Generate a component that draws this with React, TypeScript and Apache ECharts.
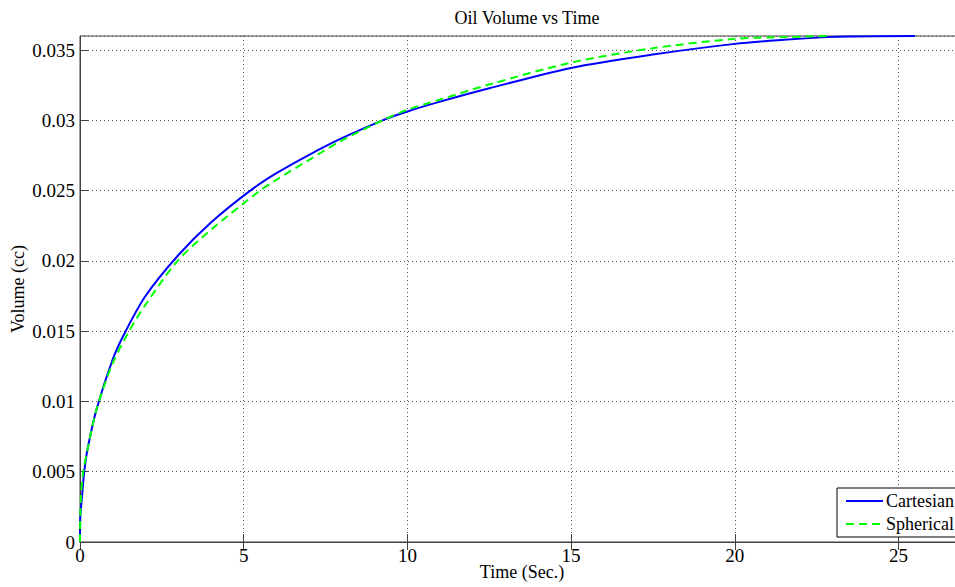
import React, { useEffect, useRef } from "react";
import * as echarts from "echarts";

const cartesianT = [0, 0.01, 0.06, 0.13, 0.23, 0.5, 1, 1.35, 2, 3, 4, 5.2, 6, 7, 8, 9.24, 10, 11, 12.5, 15, 17.5, 20, 21.5, 22.8, 23.5, 25.5];
const cartesianV = [0, 0.0018, 0.0032, 0.005, 0.0066, 0.0094, 0.0130, 0.0148, 0.0175, 0.0204, 0.02273, 0.025, 0.02624, 0.02755, 0.02873, 0.0300, 0.03063, 0.03133, 0.03228, 0.03373, 0.03468, 0.03544, 0.03573, 0.03592, 0.03597, 0.036];

const sphericalT = [0, 0.02, 0.1, 0.25, 0.5, 1, 1.5, 2, 2.98, 4, 5.5, 6, 7, 8, 9.24, 10, 11, 12.5, 15, 17.5, 20, 21.5, 22.8];
const sphericalV = [0, 0.0028, 0.005, 0.0068, 0.0094, 0.01273, 0.015, 0.01688, 0.02, 0.02221, 0.025, 0.02577, 0.02719, 0.02857, 0.0300, 0.03075, 0.03148, 0.03255, 0.03411, 0.03513, 0.0358, 0.03592, 0.036];

const xTicks = { min: 0, max: 27, interval: 5 };
const yTicks = { min: 0, max: 0.036, interval: 0.005 };

const FONT = "'Liberation Serif', 'Times New Roman', serif";

export default function App() {
  const ref = useRef<HTMLDivElement>(null);
  useEffect(() => {
    if (!ref.current) return;
    const chart = echarts.init(ref.current, undefined, { renderer: "svg" });
    const cart = cartesianT.map((t, i) => [t, cartesianV[i]]);
    const sph = sphericalT.map((t, i) => [t, sphericalV[i]]);
    const axisColor = "#404040";
    chart.setOption({
      animation: false,
      backgroundColor: "#fff",
      title: {
        text: "Oil Volume vs Time",
        left: 522,
        textAlign: "center",
        top: 4,
        textStyle: { fontFamily: FONT, fontSize: 18, fontWeight: "normal", color: "#000" },
      },
      grid: {
        left: 80,
        top: 36,
        right: 11,
        bottom: 45,
        containLabel: false,
        outerBoundsMode: "none",
        show: true,
        borderColor: axisColor,
        borderWidth: 1,
        backgroundColor: "transparent",
      },
      legend: {
        left: 837,
        top: 488,
        orient: "vertical",
        padding: [4, 20, 4, 8],
        itemGap: 5,
        itemWidth: 37,
        itemHeight: 14,
        backgroundColor: "#fff",
        borderColor: "#000",
        borderWidth: 1,
        borderRadius: 0,
        itemStyle: { opacity: 0 },
        textStyle: { fontFamily: FONT, fontSize: 18, color: "#000", padding: [0, 0, 0, -2] },
        data: ["Cartesian", "Spherical"],
      },
      xAxis: [
        {
          type: "value",
          min: xTicks.min,
          max: xTicks.max,
          interval: xTicks.interval,
          name: "Time (Sec.)",
          nameLocation: "middle",
          nameGap: 21,
          nameMoveOverlap: false,
          nameTextStyle: { fontFamily: FONT, fontSize: 18, color: "#000" },
          axisLine: { show: true, onZero: false, lineStyle: { color: axisColor } },
          axisTick: { show: true, inside: true, length: 8, lineStyle: { color: axisColor } },
          axisLabel: {
            fontFamily: FONT,
            fontSize: 19,
            color: "#000",
            margin: 4,
            showMaxLabel: false,
          },
          splitLine: { show: true, lineStyle: { color: "#555", type: [1, 3], width: 1 } },
        },
        {
          type: "value",
          position: "top",
          min: xTicks.min,
          max: xTicks.max,
          interval: xTicks.interval,
          axisLine: { show: true, lineStyle: { color: axisColor } },
          axisTick: { show: true, inside: true, length: 8, lineStyle: { color: axisColor } },
          axisLabel: { show: false },
          splitLine: { show: false },
        },
      ],
      yAxis: {
        type: "value",
        min: yTicks.min,
        max: yTicks.max,
        interval: yTicks.interval,
        name: "Volume (cc)",
        nameLocation: "middle",
        nameGap: 53,
        nameMoveOverlap: false,
        nameTextStyle: { fontFamily: FONT, fontSize: 18, color: "#000" },
        axisLine: { show: true, onZero: false, lineStyle: { color: axisColor } },
        axisTick: { show: true, inside: true, length: 8, lineStyle: { color: axisColor } },
        axisLabel: {
          fontFamily: FONT,
          fontSize: 19,
          color: "#000",
          margin: 5,
          showMaxLabel: false,
          formatter: (v: number) => String(+v.toFixed(3)),
        },
        splitLine: { show: true, lineStyle: { color: "#555", type: [1, 3], width: 1 } },
      },
      series: [
        {
          name: "Cartesian",
          type: "line",
          xAxisIndex: 0,
          data: cart,
          symbol: "none",
          smooth: 0.3,
          lineStyle: { color: "#0000ff", width: 2 },
          itemStyle: { color: "#0000ff" },
          z: 3,
        },
        {
          name: "Spherical",
          type: "line",
          xAxisIndex: 0,
          data: sph,
          symbol: "none",
          smooth: 0.3,
          lineStyle: { color: "#00ff00", width: 2, type: [8, 5] },
          itemStyle: { color: "#00ff00" },
          z: 4,
        },
      ],
    });
    return () => chart.dispose();
  }, []);
  return (
    <div style={{ position: "fixed", left: 0, top: 0, width: 955, height: 587, overflow: "hidden", background: "#fff" }}>
      <div ref={ref} style={{ width: 975, height: 587 }} />
    </div>
  );
}
